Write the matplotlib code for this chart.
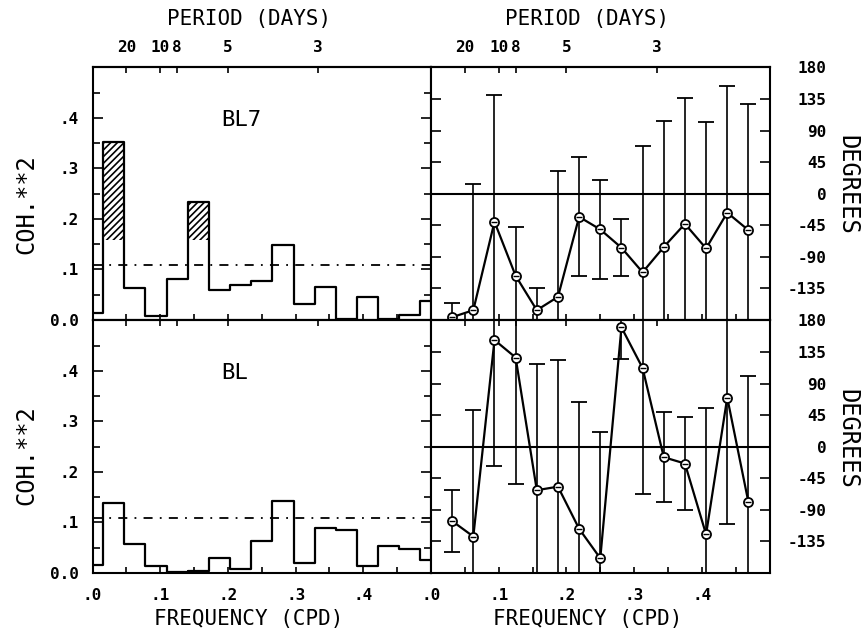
import numpy as np
import matplotlib.pyplot as plt
from matplotlib.ticker import MultipleLocator

plt.rcParams['font.family'] = 'DejaVu Sans Mono'
plt.rcParams['hatch.linewidth'] = 1.2

# frequency bins (cycles per day), spacing 1/32 cpd
freq_coh = np.arange(17) / 32.0
freq_phase = np.arange(1, 16) / 32.0

# squared coherence, station BL7 and BL
coh_bl7 = [0.013, 0.352, 0.064, 0.008, 0.081, 0.234, 0.059, 0.069, 0.078,
           0.148, 0.031, 0.066, 0.001, 0.045, 0.002, 0.010, 0.038]
coh_bl = [0.016, 0.139, 0.057, 0.014, 0.001, 0.003, 0.030, 0.008, 0.064,
          0.143, 0.020, 0.089, 0.086, 0.014, 0.053, 0.048, 0.025]

# phase (degrees) and half-width of the error bars
phase_bl7 = [-176, -166, -40, -117, -166, -147, -33, -51, -77, -112, -76, -43, -78, -27, -52]
err_bl7 = [20, 180, 180, 70, 31, 180, 85, 71, 41, 180, 180, 180, 180, 180, 180]
phase_bl = [-106, -128, 152, 127, -62, -57, -117, -159, 170, 112, -15, -24, -125, 70, -79]
err_bl = [44, 180, 180, 180, 180, 180, 180, 180, 45, 180, 64, 66, 180, 180, 180]

sig_level = 0.108
hatch_level = 0.158
periods = [20, 10, 8, 5, 3]
period_labels = ['20', '10', '8', '5', '3']

fig = plt.figure(figsize=(8.67, 6.38), dpi=100)
W, H = 0.3905, 0.396
xl, xr = 92.5 / 867, 431 / 867
yt, yb = 1 - 320 / 638, 1 - 573 / 638

TICK_FS = 11.5


def period_axis(ax, show_labels):
    sec = ax.secondary_xaxis('top')
    sec.set_xticks([1.0 / p for p in periods], labels=period_labels, fontweight='bold')
    sec.tick_params(direction='in', length=4.5, width=1.2, labelsize=TICK_FS, pad=9,
                    labeltop=show_labels)
    sec.spines['top'].set_linewidth(1.5)
    if show_labels:
        sec.set_xlabel('PERIOD (DAYS)', fontsize=15, labelpad=11, x=0.462)
    return sec


def freq_axis(ax, labels, show_labels):
    ax.set_xlim(0, 0.5)
    ax.set_xticks(np.arange(0, 0.51, 0.1), labels=labels if show_labels else [''] * 6,
                  fontweight='bold')
    ax.xaxis.set_minor_locator(MultipleLocator(0.05))
    ax.tick_params(axis='x', which='both', direction='in', top=False, bottom=True,
                   length=4.5, width=1.2, labelsize=TICK_FS, pad=11)
    if show_labels:
        ax.set_xlabel('FREQUENCY (CPD)', fontsize=15, x=0.462)


def coh_panel(ax, coh, name, bottom_row):
    coh = np.asarray(coh)
    ax.step(freq_coh, coh, where='mid', color='k', lw=1.6)
    ax.axhline(sig_level, color='k', lw=1.3, ls=(0, (5, 4, 1, 4)))
    hi = coh > hatch_level
    ax.bar(freq_coh[hi], coh[hi] - hatch_level, bottom=hatch_level, width=1 / 32,
           fill=False, hatch='/////', edgecolor='k', lw=0)
    ax.text(0.19, 0.395, name, fontsize=16, ha='left', va='center')
    ax.set_ylim(0, 0.5)
    ax.set_yticks([0, 0.1, 0.2, 0.3, 0.4], labels=['0.0', '.1', '.2', '.3', '.4'],
                  fontweight='bold')
    ax.yaxis.set_minor_locator(MultipleLocator(0.05))
    ax.tick_params(axis='y', which='major', direction='in', left=True, right=True,
                   length=7, width=1.2, labelsize=TICK_FS, pad=10)
    ax.tick_params(axis='y', which='minor', direction='in', left=True, right=True,
                   length=5, width=1.2)
    freq_axis(ax, ['.0', '.1', '.2', '.3', '.4', ''], bottom_row)
    period_axis(ax, not bottom_row)
    ax.set_ylabel('COH.**2', fontsize=17, va='center')
    ax.yaxis.set_label_coords(-0.195, 0.46 if not bottom_row else 0.466)
    for s in ax.spines.values():
        s.set_linewidth(1.5)


def phase_panel(ax, phase, err, bottom_row):
    ax.axhline(0, color='k', lw=1.5)
    ax.errorbar(freq_phase, phase, yerr=err, color='k', lw=1.6, elinewidth=1.2,
                capsize=6, capthick=1.2, marker='o', ms=6.5, mfc='white', mec='k',
                mew=1.3, zorder=2)
    ax.plot(freq_phase, phase, ls='none', marker='_', ms=5, color='k', mew=1.0,
            zorder=4)
    ax.set_ylim(-180, 180)
    ax.set_yticks(np.arange(-180, 181, 45),
                  labels=['', '-135', '-90', '-45', '0', '45', '90', '135', '180'],
                  fontweight='bold', ha='right')
    ax.tick_params(axis='y', which='major', direction='in', left=True, right=True,
                   labelleft=False, labelright=True, length=7, width=1.2,
                   labelsize=TICK_FS, pad=41)
    freq_axis(ax, ['.0', '.1', '.2', '.3', '.4', ''], bottom_row)
    period_axis(ax, not bottom_row)
    ax.yaxis.set_label_position('right')
    ax.set_ylabel('DEGREES', fontsize=17, rotation=-90, va='center', ha='center')
    ax.yaxis.set_label_coords(1.229, 0.536 if not bottom_row else 0.53)
    for s in ax.spines.values():
        s.set_linewidth(1.5)


ax1 = fig.add_axes([xl, yt, W, H])
ax2 = fig.add_axes([xr, yt, W, H])
ax3 = fig.add_axes([xl, yb, W, H])
ax4 = fig.add_axes([xr, yb, W, H])

coh_panel(ax1, coh_bl7, 'BL7', False)
phase_panel(ax2, phase_bl7, err_bl7, False)
coh_panel(ax3, coh_bl, 'BL', True)
phase_panel(ax4, phase_bl, err_bl, True)

fig.savefig('out.png', dpi=100)
